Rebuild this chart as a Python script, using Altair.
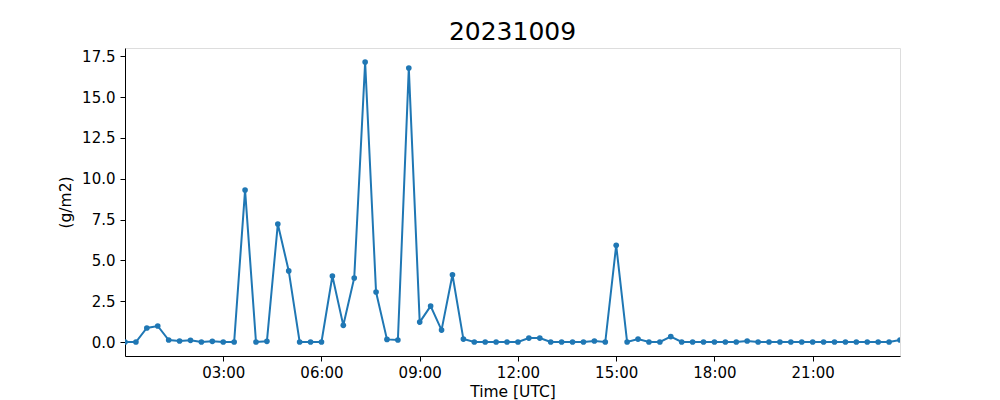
import altair as alt
import pandas as pd

title_text = "20231009"
y_label = "(g/m2)"
x_label = "Time [UTC]"

# 20-minute samples, 2023-10-09 00:00 .. 23:40 UTC
times = pd.date_range("2023-10-09T00:00:00", periods=72, freq="20min").strftime("%Y-%m-%dT%H:%M:%SZ").tolist()

values = [0, 0, 0.86, 0.98, 0.12, 0.06, 0.1, 0, 0.04, 0, 0, 9.3, 0, 0.04, 7.22, 4.35, 0, 0,
          0, 4.04, 1.02, 3.92, 17.14, 3.06, 0.16, 0.12, 16.77, 1.22, 2.2, 0.73, 4.12, 0.18, 0, 0, 0,
          0, 0, 0.24, 0.24, 0, 0, 0, 0, 0.06, 0, 5.92, 0, 0.18, 0, 0, 0.33,
          0, 0, 0, 0, 0, 0, 0.06, 0, 0, 0, 0, 0, 0, 0, 0, 0, 0, 0, 0, 0, 0.12]

tick_hours = [3, 6, 9, 12, 15, 18, 21]
y_ticks = [0, 2.5, 5, 7.5, 10, 12.5, 15, 17.5]

df = pd.DataFrame({"time": times, "value": values})

x_tick_values = [alt.DateTime(year=2023, month=10, date=9, hours=h, minutes=0, utc=True) for h in tick_hours]

FONT = "DejaVu Sans"

chart = alt.Chart(df).mark_line(
    color="#1f77b4", strokeWidth=2, clip=True,
    point=alt.OverlayMarkDef(color="#1f77b4", size=32, filled=True, opacity=1, clip=True),
).encode(
    x=alt.X("time:T",
            scale=alt.Scale(type="utc", domain=[times[0], times[-1]], nice=False),
            axis=alt.Axis(title=x_label, values=x_tick_values, format="%H:%M", grid=False,
                          tickSize=5, labelPadding=4, titlePadding=4,
                          labelFontSize=15, titleFontSize=15.5, labelFont=FONT, titleFont=FONT,
                          labelColor="black", titleColor="black", titleFontWeight="normal",
                          domainColor="black", tickColor="black", labelFlush=False)),
    y=alt.Y("value:Q",
            scale=alt.Scale(domain=[-0.857, 18.0], nice=False, zero=False),
            axis=alt.Axis(title=y_label, values=y_ticks, format=".1f", grid=False,
                          tickSize=5, labelPadding=5, titlePadding=8,
                          labelFontSize=15, titleFontSize=15.5, labelFont=FONT, titleFont=FONT,
                          labelColor="black", titleColor="black", titleFontWeight="normal",
                          domainColor="black", tickColor="black", labelFlush=False)),
).properties(
    width=775,
    height=308,
    title=alt.TitleParams(text=title_text, fontSize=25, font=FONT, fontWeight="normal",
                          color="black", anchor="middle", offset=3),
    autosize=alt.AutoSizeParams(type="none"),
    padding={"left": 117, "top": 40, "right": 80, "bottom": 44},
).configure_view(
    stroke="black", strokeWidth=1
).configure(background="white")

chart.save("out.html", embed_options={"renderer": "svg", "actions": False})
